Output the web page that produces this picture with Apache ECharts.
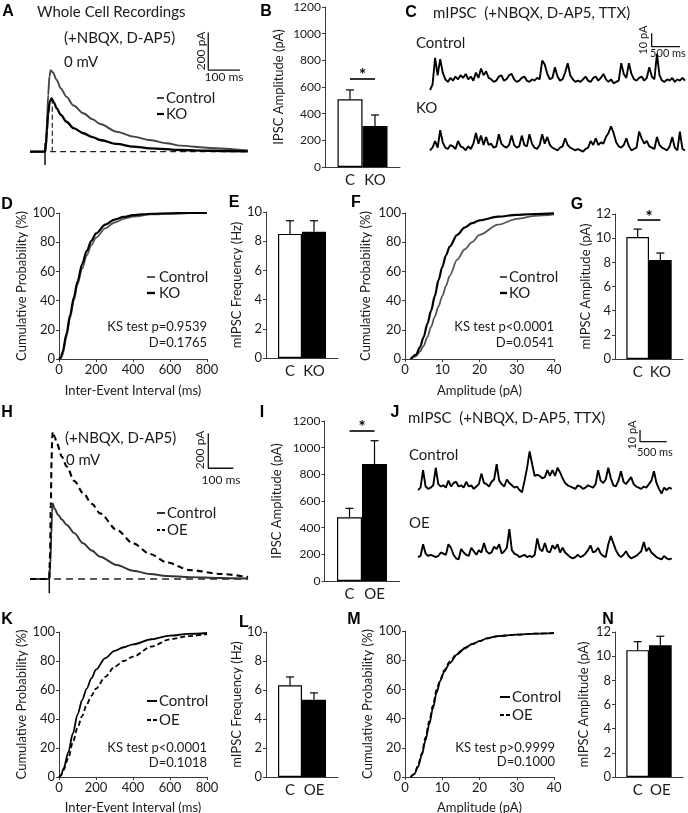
<!DOCTYPE html>
<html><head><meta charset="utf-8">
<script src="https://cdn.jsdelivr.net/npm/echarts@6/dist/echarts.min.js"></script>
<style>html,body{margin:0;padding:0;background:#fff}#c{width:688px;height:813px}</style>
</head><body><div id="c"></div>
<script>
// ================= DATA =================
// A: whole-cell IPSC traces (time ms, current pA)
const A_ctrl_t = [-47,0,3,6,10,14,18,25,37,50,68,90,121,150,174,226,279,331,384,426,520,640];
const A_ctrl_v = [0,0,40,150,300,400,433,420,380,335,291,245,204,172,147,106,80,62,45,32,20,6];
const A_ko_t   = [-47,0,3,6,10,15,21,28,37,50,68,90,121,150,174,226,279,331,426,520,640];
const A_ko_v   = [0,0,30,110,200,265,283,262,230,195,159,125,98,77,62,41,27,18,9,5,2];
const A_stim   = [-70, 46];
const A_peakMark = [23, 274];
// H: whole-cell IPSC traces
const H_ctrl_t = [-77,0,4,8,11,14,20,36,50,70,100,135,170,203,270,335,403,470,563,680,795];
const H_ctrl_v = [0,0,80,250,380,432,405,366,340,309,262,204,163,127,80,47,29,17,11,6,3];
const H_oe_t   = [-77,0,3,6,9,12,14,22,30,50,70,100,136,170,203,270,335,403,470,563,683,795];
const H_oe_v   = [0,0,150,420,680,820,842,810,777,700,642,560,490,430,375,280,204,143,95,51,29,11];
const H_stim   = [-82, 51];

// C / J: mIPSC traces (pA), one value per sample
const C_step = 45;   // ms per sample
const C_ctrl = [-5,-1,19,6,18,8,3,1,4,2,5,3,6,4,7,3,5,2,8,4,11,6,9,4,3,1,2,5,6,2,3,6,7,3,1,2,4,5,2,1,3,2,4,3,17,14,7,3,4,12,5,2,3,8,15,6,3,1,2,1,3,5,2,1,4,5,2,4,7,3,1,3,0,1,2,15,7,4,15,7,3,2,4,5,2,4,12,5,3,22,6,2,1,3,2,4,1,3,2,4,2];
const C_ko   = [1,3,8,3,16,7,3,2,5,4,2,8,4,3,1,4,2,6,14,6,12,5,11,5,6,3,4,13,6,4,3,5,12,5,3,4,12,5,4,13,6,3,2,5,13,6,11,5,3,2,1,3,4,10,5,3,2,1,2,1,0,2,3,8,5,10,5,7,6,11,14,19,14,7,4,3,5,10,4,1,2,3,15,10,6,8,4,3,2,11,5,3,2,1,4,11,3,1,15,2,1];
const J_step = 47.5;
const J_ctrl = [0,2,17,3,1,2,4,19,5,3,4,2,8,3,6,7,3,4,2,7,3,4,1,3,5,14,6,5,3,7,9,22,8,5,3,9,6,4,2,3,0,-2,8,19,33,22,12,13,12,10,11,17,12,17,12,19,15,10,6,4,3,2,1,4,3,1,2,4,3,2,5,17,8,6,9,19,10,4,3,8,16,7,5,8,11,5,3,2,1,3,2,5,8,16,6,1,-3,2,0,2,1];
const J_oe   = [1,2,12,4,2,3,2,1,2,5,4,3,12,9,3,0,-1,8,5,3,2,9,6,3,7,5,13,6,4,5,10,8,12,4,6,9,25,7,4,3,1,2,3,1,2,1,3,17,8,6,13,6,5,11,8,12,5,9,5,3,1,0,1,3,1,2,4,7,11,5,6,9,4,2,1,12,19,13,7,3,1,3,6,2,0,1,2,4,6,14,6,9,5,3,1,0,-1,2,0,-1,0];

// Scale bars: [time, current, length ms, length pA]
const A_bar = [515, 433, 100, 200];
const H_bar = [636, 633, 100, 200];
const C_bar = [3912, 27.3, 500, 10];
const J_bar = [4157, 41.3, 500, 10];

// Bar panels: mean, SEM, categories
const B_cats = ['C','KO'], B_mean = [508, 308], B_sem = [70, 82], B_sig = 660;
const E_cats = ['C','KO'], E_mean = [8.5, 8.65], E_sem = [0.9, 0.75];
const G_cats = ['C','KO'], G_mean = [10.1, 8.2], G_sem = [0.65, 0.57], G_sig = 11.5;
const I_cats = ['C','OE'], I_mean = [478, 877], I_sem = [67, 175], I_sig = 1125;
const L_cats = ['C','OE'], L_mean = [6.32, 5.33], L_sem = [0.58, 0.47];
const N_cats = ['C','OE'], N_mean = [10.5, 10.9], N_sem = [0.7, 0.75];

// CDF panels
const D_x    = [0,10,20,40,60,80,100,125,150,175,200,250,300,350,400,500,600,700,800];
const D_ctrl = [0,0.5,3,15,28,40,51,62,71,78,83,89.5,93.5,96,97.5,99,99.6,99.9,100];
const D_ko   = [0,1,5,17,30,42,53,65,74,81,86,92,95.5,97.3,98.5,99.5,99.8,100,100];
const F_x    = [1.5,3,4,5,6,7,8,9,10,11,12,14,16,18,20,25,30,35,40];
const F_ctrl = [0,2,5,9,15,22,29,36,43,50,57,68,75,80,85,92,96,98,99];
const F_ko   = [0,3,8,15,24,33,43,54,63,71,77,85,90,93,95,97.5,98.7,99.3,99.7];
const K_x    = [0,10,25,50,75,100,125,150,175,200,250,300,350,400,500,600,700,800];
const K_ctrl = [0,1,6,17,30,43,53,61,68,74,82,87,89.5,91.5,95,97.5,98.7,99.3];
const K_oe   = [0,1,5,13,24,34,42,50,56,61,69,76,80,83,90,95,97.2,98.5];
const M_x    = [1.5,2.5,3.5,4.5,5.5,6.5,7.5,8.5,9.5,10.5,12,14,16,18,20,22,25,30,35,40];
const M_ctrl = [0,2,7,15,25,36,47,58,66,72,78,84,88,91,93,95,96.5,97.5,98.2,98.6];
const M_oe   = [0,2,8,16,27,38,49,60,67,73,79,84.5,88.5,91,93,95,96.5,97.5,98.2,98.6];

// ================= LAYOUT / STYLE =================
const FONT = 'Lato, "Open Sans", sans-serif';
const BOLD = 'bold 16px "Liberation Sans", Arial, sans-serif';
const TXT = '#1a1a1a';
const AX = '#3a3a3a';
const grids = [], xAxes = [], yAxes = [], series = [], graphics = [];

function zip(xs, ys){ return xs.map((x,i)=>[x, ys[i]]); }
function samples(vals, step){ return vals.map((v,i)=>[i*step, v]); }

function addGrid(box, xa, ya){
  const i = grids.length;
  grids.push({left:box.l, top:box.t, width:box.w, height:box.h, containLabel:false, outerBoundsMode:'none'});
  xAxes.push(Object.assign({gridIndex:i}, xa));
  yAxes.push(Object.assign({gridIndex:i}, ya));
  return i;
}
function hiddenAxis(min, max){ return {type:'value', min, max, show:false, splitLine:{show:false}}; }
function lineSeries(i, data, color, width, dash, smooth){
  series.push({type:'line', xAxisIndex:i, yAxisIndex:i, data, symbol:'none', showSymbol:false, silent:true,
    smooth: smooth ? 0.3 : false, smoothMonotone:'x', clip:false, z:3,
    lineStyle:{color, width, type: dash || 'solid'}});
}
function scaleBar(i, b){
  lineSeries(i, [[b[0], b[1]+b[3]], [b[0], b[1]], [b[0]+b[2], b[1]]], '#111', 1.3);
}
function text(x, y, s, opt){
  opt = opt || {};
  graphics.push({type:'text', x, y, rotation: opt.rot || 0, silent:true, z:10,
    style:{text:s, fill: opt.color || TXT, font: opt.font || ('15px ' + FONT),
      textAlign: opt.align || 'left', textVerticalAlign: opt.va || 'middle'}});
}
function gline(x1, y1, x2, y2, color, w, dash){
  graphics.push({type:'line', silent:true, z:10, shape:{x1,y1,x2,y2},
    style:{stroke:color, lineWidth:w, lineDash: dash || null}});
}

const tickLabel = (fs) => ({fontSize:fs, color:TXT, fontFamily:FONT, margin:4, formatter: v => String(v)});
const nameStyle = {fontSize:13, color:TXT, fontFamily:FONT};

function barPanel(box, yMax, yInt, yName, nameGap, cats, mean, sem, sig, fs){
  const i = addGrid(box,
    {type:'value', min:0, max:3, interval:1, axisLine:{show:true, lineStyle:{color:AX, width:1}},
     axisTick:{show:false}, splitLine:{show:false},
     axisLabel:{formatter: v => cats[v-1] || '', fontSize:15, color:TXT, fontFamily:FONT, margin:6}},
    {type:'value', min:0, max:yMax, interval:yInt, name:yName, nameLocation:'middle', nameGap,
     nameTextStyle:nameStyle, axisLine:{show:true, lineStyle:{color:AX, width:1}},
     axisTick:{show:true, length:3, lineStyle:{color:AX}}, splitLine:{show:false},
     axisLabel:tickLabel(fs)});
  const bw = box.w / 3;
  series.push({type:'bar', xAxisIndex:i, yAxisIndex:i, barWidth:bw, silent:true, z:2,
    data:[{value:[1, mean[0]], itemStyle:{color:'#fff', borderColor:'#000', borderWidth:1.2}},
          {value:[2, mean[1]], itemStyle:{color:'#000', borderColor:'#000', borderWidth:1.2}}]});
  series.push({type:'custom', xAxisIndex:i, yAxisIndex:i, silent:true, z:4,
    data: mean.map((m,k)=>[k+1, m, m + sem[k]]),
    renderItem:(params, api)=>{
      const p0 = api.coord([api.value(0), api.value(1)]);
      const p1 = api.coord([api.value(0), api.value(2)]);
      return {type:'group', children:[
        {type:'line', shape:{x1:p0[0], y1:p0[1], x2:p1[0], y2:p1[1]}, style:{stroke:'#000', lineWidth:1.2}},
        {type:'line', shape:{x1:p1[0]-4, y1:p1[1], x2:p1[0]+4, y2:p1[1]}, style:{stroke:'#000', lineWidth:1.2}}
      ]};
    }});
  if (sig != null) {
    series.push({type:'custom', xAxisIndex:i, yAxisIndex:i, silent:true, z:4,
      data:[[1, 2, sig]],
      renderItem:(params, api)=>{
        const a = api.coord([api.value(0), api.value(2)]);
        const b = api.coord([api.value(1), api.value(2)]);
        return {type:'group', children:[
          {type:'line', shape:{x1:a[0], y1:a[1], x2:b[0], y2:b[1]}, style:{stroke:'#000', lineWidth:1.6}},
          {type:'text', x:(a[0]+b[0])/2, y:a[1]-3, style:{text:'*', font:'bold 17px ' + FONT, fill:'#000', textAlign:'center', textVerticalAlign:'middle'}}
        ]};
      }});
  }
  return i;
}

function cdfPanel(box, xMax, xInt, xName, xGap, curves){
  const i = addGrid(box,
    {type:'value', min:0, max:xMax, interval:xInt, name:xName, nameLocation:'middle', nameGap:xGap,
     nameTextStyle:nameStyle, axisLine:{show:true, lineStyle:{color:AX}}, axisTick:{show:true, length:3, lineStyle:{color:AX}},
     splitLine:{show:false}, axisLabel:Object.assign(tickLabel(13), {margin:4})},
    {type:'value', min:0, max:100, interval:20, name:'Cumulative Probability (%)', nameLocation:'middle', nameGap: box.yGap,
     nameTextStyle:nameStyle, axisLine:{show:true, lineStyle:{color:AX}}, axisTick:{show:true, length:3, lineStyle:{color:AX}},
     splitLine:{show:false}, axisLabel:tickLabel(13)});
  curves.forEach(c => lineSeries(i, c.d, c.color, c.w, c.dash, true));
  return i;
}

// ================= PANELS =================
// A
const gA = addGrid({l:29.15, t:19.75, w:221.9, h:150.8}, hiddenAxis(-50,650), hiddenAxis(-100,700));
lineSeries(gA, [[A_ctrl_t[0],0],[A_ctrl_t[A_ctrl_t.length-1],0]], '#222', 1.2, [6,4]);
lineSeries(gA, [[A_peakMark[0],0],[A_peakMark[0],A_peakMark[1]]], '#222', 1.2, [5,3]);
lineSeries(gA, [[0,A_stim[0]],[0,A_stim[1]]], '#111', 1.5);
lineSeries(gA, zip(A_ctrl_t, A_ctrl_v), '#444', 1.9, null, true);
lineSeries(gA, zip(A_ko_t, A_ko_v), '#000', 2.3, null, true);
scaleBar(gA, A_bar);

// B
barPanel({l:325, t:7, w:75, h:160}, 1200, 200, 'IPSC Amplitude (pA)', 40, B_cats, B_mean, B_sem, B_sig, 12);

// C
const gC1 = addGrid({l:430, t:29.7, w:255, h:67}, hiddenAxis(0,4500), hiddenAxis(-10,40));
lineSeries(gC1, samples(C_ctrl, C_step), '#000', 1.9);
scaleBar(gC1, C_bar);
const gC2 = addGrid({l:430, t:111.5, w:255, h:53.6}, hiddenAxis(0,4500), hiddenAxis(-10,30));
lineSeries(gC2, samples(C_ko, C_step), '#000', 1.9);

// D
cdfPanel({l:59, t:213, w:148, h:146, yGap:31}, 800, 200, 'Inter-Event Interval (ms)', 25, [
  {d:zip(D_x, D_ctrl), color:'#555', w:1.8},
  {d:zip(D_x, D_ko), color:'#000', w:2.2}]);
// E
barPanel({l:266, t:212, w:72, h:146}, 10, 2, 'mIPSC Frequency (Hz)', 19, E_cats, E_mean, E_sem, null, 13);
// F
cdfPanel({l:405, t:213, w:149, h:146, yGap:33}, 40, 10, 'Amplitude (pA)', 25, [
  {d:zip(F_x, F_ctrl), color:'#555', w:1.8},
  {d:zip(F_x, F_ko), color:'#000', w:2.2}]);
// G
barPanel({l:615, t:214, w:68, h:145}, 12, 2, 'mIPSC Amplitude (pA)', 21, G_cats, G_mean, G_sem, G_sig, 13);

// H
const gH = addGrid({l:29.3, t:421.5, w:220, h:175}, hiddenAxis(-80,800), hiddenAxis(-100,900));
lineSeries(gH, [[H_ctrl_t[0],0],[H_ctrl_t[H_ctrl_t.length-1],0]], '#222', 1.3, [7,5]);
lineSeries(gH, [[0,H_stim[0]],[0,H_stim[1]]], '#111', 1.5);
lineSeries(gH, zip(H_ctrl_t, H_ctrl_v), '#333', 1.9, null, true);
lineSeries(gH, zip(H_oe_t, H_oe_v), '#000', 2.1, [6,4], true);
scaleBar(gH, H_bar);

// I
barPanel({l:324.5, t:421, w:75, h:160}, 1200, 200, 'IPSC Amplitude (pA)', 41, I_cats, I_mean, I_sem, I_sig, 12);

// J
const gJ1 = addGrid({l:418, t:425.65, w:253.7, h:76.05}, hiddenAxis(0,4750), hiddenAxis(-10,55));
lineSeries(gJ1, samples(J_ctrl, J_step), '#000', 1.9);
scaleBar(gJ1, J_bar);
const gJ2 = addGrid({l:418, t:523.2, w:253.7, h:46.8}, hiddenAxis(0,4750), hiddenAxis(-10,30));
lineSeries(gJ2, samples(J_oe, J_step), '#000', 1.9);

// K
cdfPanel({l:59, t:632, w:148, h:145, yGap:31}, 800, 200, 'Inter-Event Interval (ms)', 24, [
  {d:zip(K_x, K_ctrl), color:'#000', w:1.8},
  {d:zip(K_x, K_oe), color:'#000', w:1.8, dash:[5,3]}]);
// L
barPanel({l:266, t:632, w:72, h:145}, 10, 2, 'mIPSC Frequency (Hz)', 19, L_cats, L_mean, L_sem, null, 13);
// M
cdfPanel({l:405, t:631, w:149, h:146, yGap:28}, 40, 10, 'Amplitude (pA)', 24, [
  {d:zip(M_x, M_ctrl), color:'#000', w:1.8},
  {d:zip(M_x, M_oe), color:'#000', w:1.8, dash:[5,3]}]);
// N
barPanel({l:615, t:632, w:68, h:145}, 12, 2, 'mIPSC Amplitude (pA)', 25, N_cats, N_mean, N_sem, null, 13);

// ================= TEXT =================
const letters = [['A',8,12],['B',266,12],['C',411,13],['D',7,205],['E',234,203],['F',356,203],['G',577,205],
  ['H',7,413],['I',262,413],['J',395,413],['K',7,620],['L',244,623],['M',354,620],['N',608,620]];
letters.forEach(l => text(l[1], l[2], l[0], {font:BOLD, align:'center', color:'#000'}));

// A
text(37, 12, 'Whole Cell Recordings', {font:'15px ' + FONT});
text(64, 38, '(+NBQX, D-AP5)');
text(64, 62, '0 mV');
gline(157, 98, 164, 98, '#444', 2); text(166, 98, 'Control');
gline(157, 114, 164, 114, '#000', 2.2); text(166, 114, 'KO');
text(201, 51, '200 pA', {font:'12px ' + FONT, rot:Math.PI/2, align:'center'});
text(224, 77, '100 ms', {font:'12px ' + FONT, align:'center'});
// C
text(433, 13, 'mIPSC  (+NBQX, D-AP5, TTX)');
text(416, 43, 'Control');
text(416, 108, 'KO');
text(643, 40, '10 pA', {font:'11px ' + FONT, rot:Math.PI/2, align:'center'});
text(668, 53, '500 ms', {font:'11px ' + FONT, align:'center'});
// D
gline(147, 277, 155, 277, '#555', 2); text(159, 277, 'Control');
gline(147, 293, 155, 293, '#000', 2.4); text(159, 293, 'KO');
text(207, 327, 'KS test p=0.9539', {font:'13px ' + FONT, align:'right'});
text(207, 343, 'D=0.1765', {font:'13px ' + FONT, align:'right'});
// F
gline(500, 277, 507, 277, '#555', 2); text(509, 277, 'Control');
gline(500, 293, 507, 293, '#000', 2.4); text(509, 293, 'KO');
text(554, 327, 'KS test p<0.0001', {font:'13px ' + FONT, align:'right'});
text(554, 343, 'D=0.0541', {font:'13px ' + FONT, align:'right'});
// H
text(65, 438, '(+NBQX, D-AP5)');
text(66, 460, '0 mV');
gline(157, 513, 165, 513, '#333', 2); text(167, 513, 'Control');
gline(157, 530, 165, 530, '#000', 2, [3,2]); text(167, 530, 'OE');
text(200, 450, '200 pA', {font:'12px ' + FONT, rot:Math.PI/2, align:'center'});
text(221, 480, '100 ms', {font:'12px ' + FONT, align:'center'});
// J
text(408, 418, 'mIPSC  (+NBQX, D-AP5, TTX)');
text(409, 455, 'Control');
text(409, 523, 'OE');
text(632, 435, '10 pA', {font:'11px ' + FONT, rot:Math.PI/2, align:'center'});
text(655, 452, '500 ms', {font:'11px ' + FONT, align:'center'});
// K
gline(147, 701, 157, 701, '#000', 2); text(159, 701, 'Control');
gline(147, 720, 157, 720, '#000', 2, [4,2]); text(159, 720, 'OE');
text(207, 748, 'KS test p<0.0001', {font:'13px ' + FONT, align:'right'});
text(207, 763, 'D=0.1018', {font:'13px ' + FONT, align:'right'});
// M
gline(500, 697, 510, 697, '#000', 2); text(512, 697, 'Control');
gline(500, 715, 510, 715, '#000', 2, [4,2]); text(512, 715, 'OE');
text(555, 748, 'KS test p>0.9999', {font:'13px ' + FONT, align:'right'});
text(555, 762, 'D=0.1000', {font:'13px ' + FONT, align:'right'});

const chart = echarts.init(document.getElementById('c'), null, {renderer:'canvas', width:688, height:813});
chart.setOption({
  animation:false,
  backgroundColor:'#fff',
  grid:grids, xAxis:xAxes, yAxis:yAxes, series,
  graphic:{elements:graphics}
});
</script>
</body></html>
